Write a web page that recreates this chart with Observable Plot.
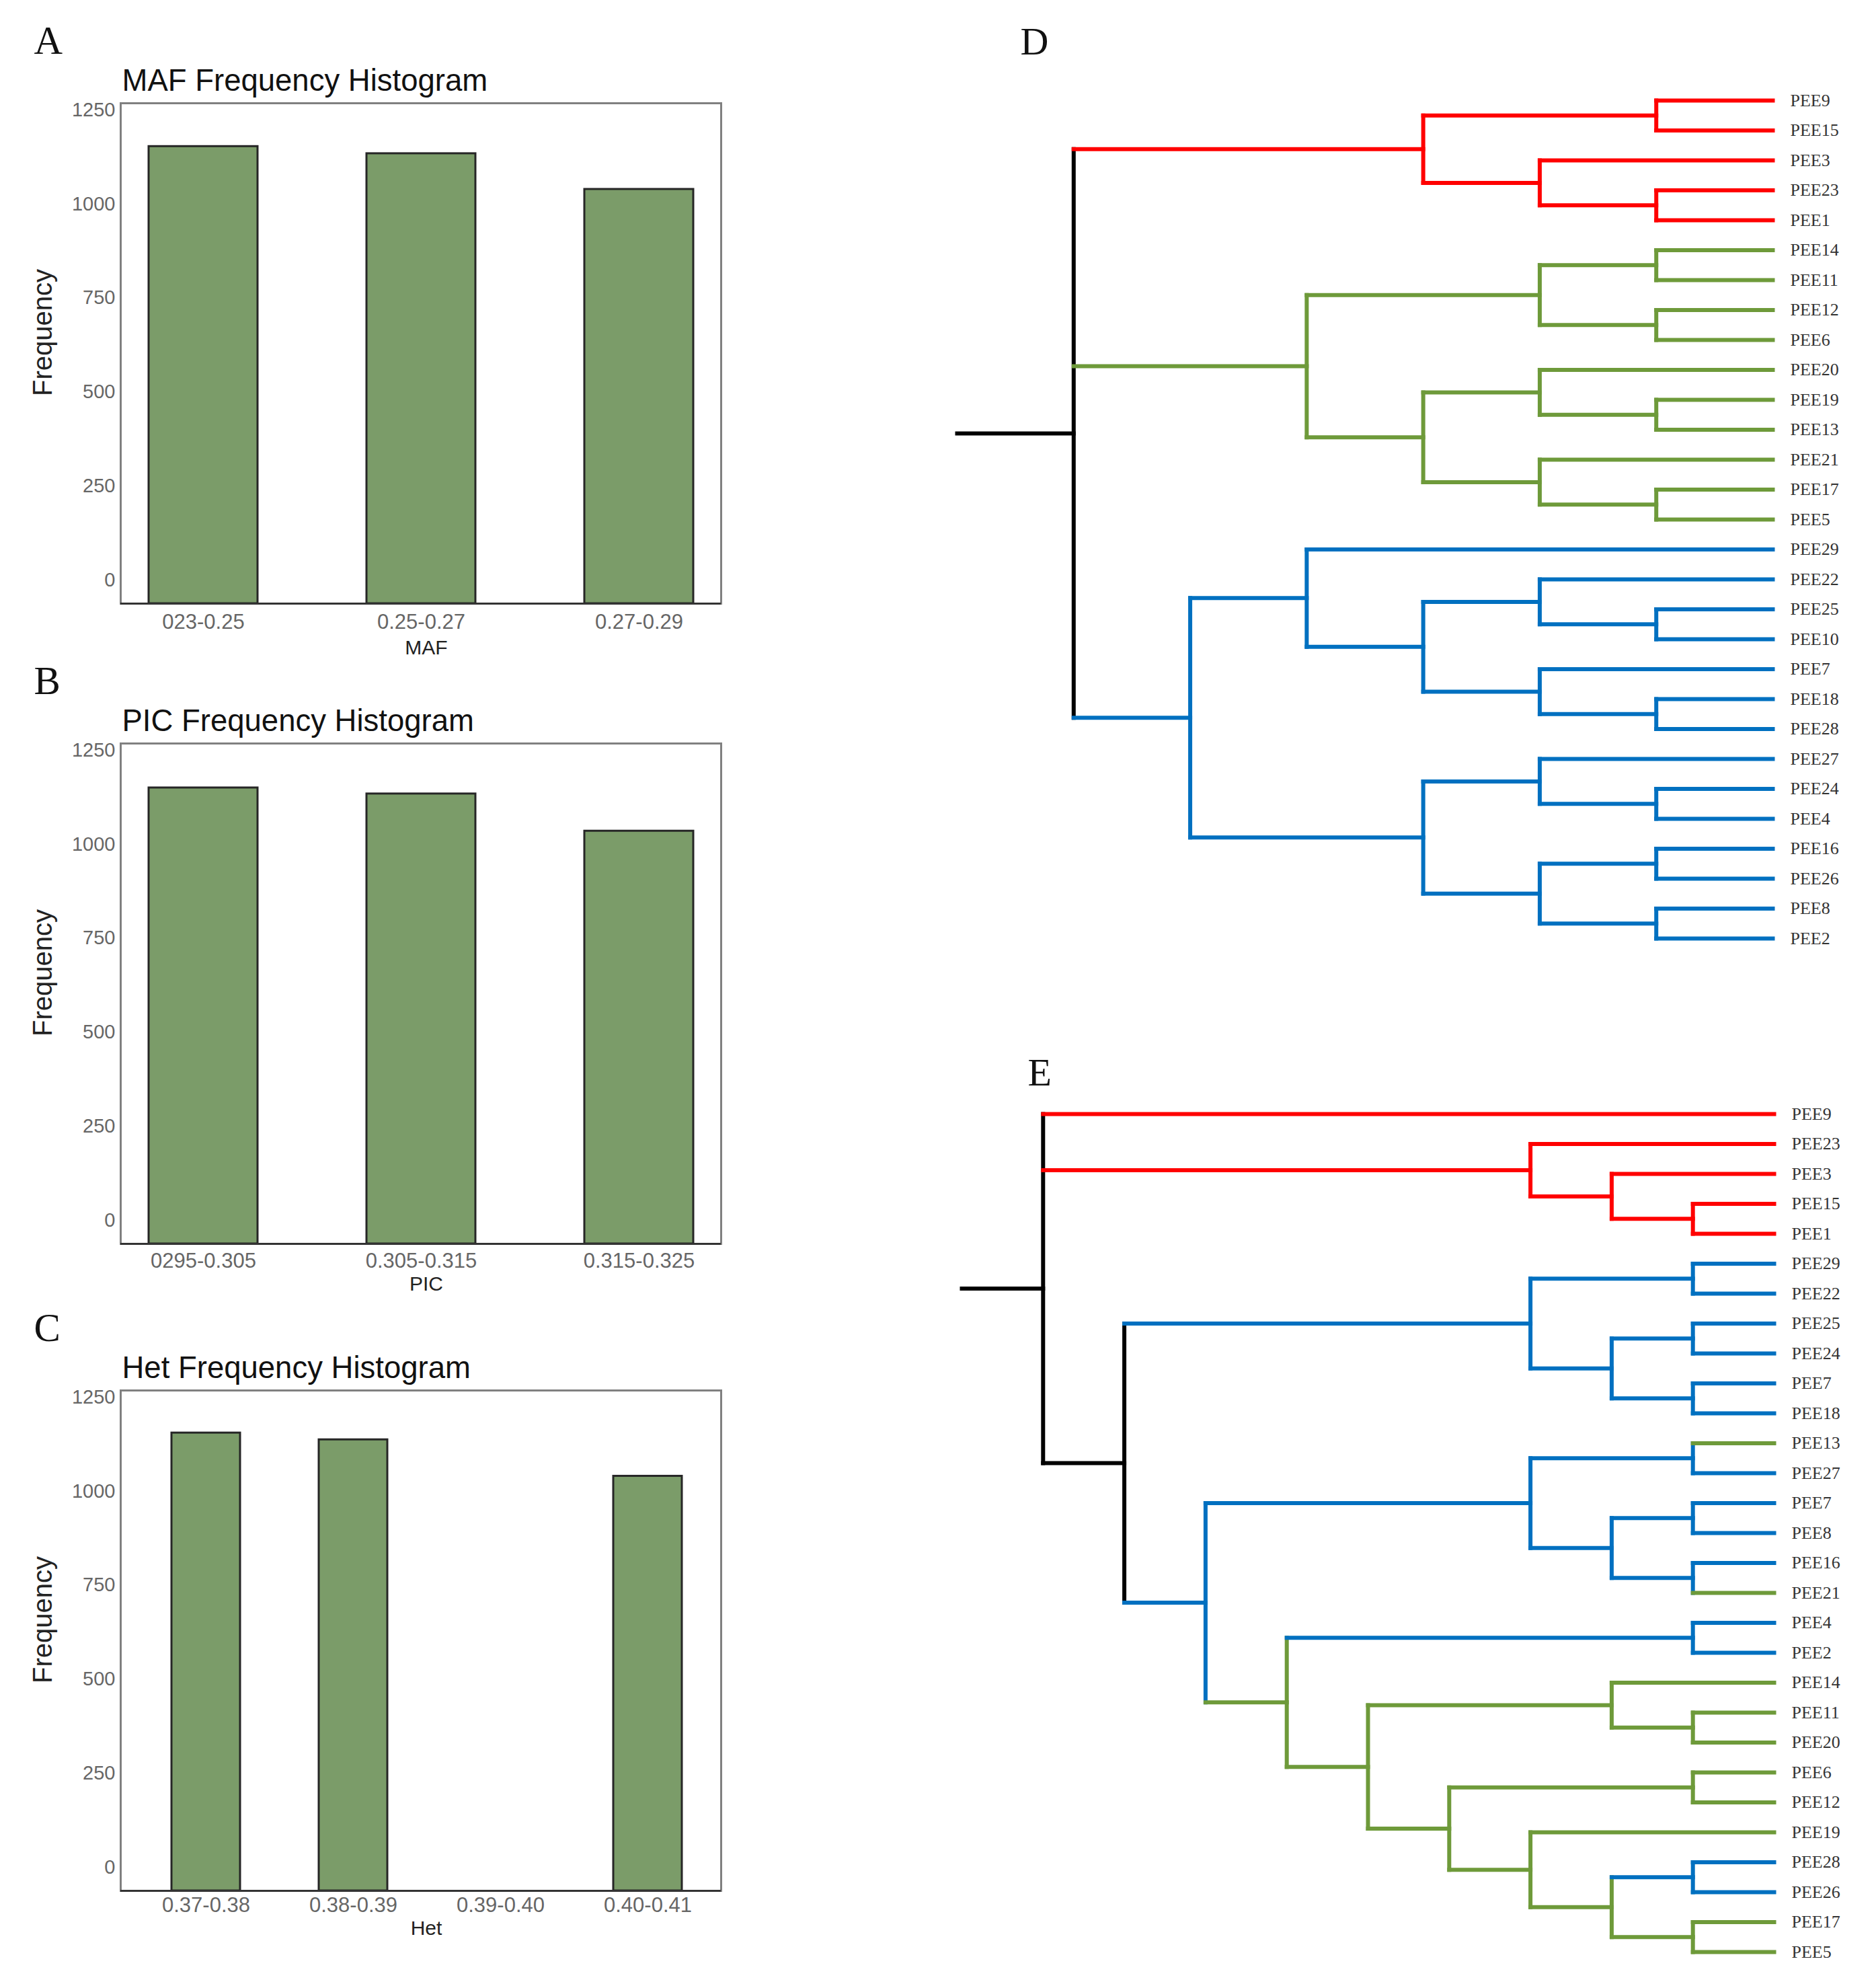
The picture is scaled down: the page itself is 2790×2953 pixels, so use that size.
<!DOCTYPE html>
<html><head><meta charset="utf-8">
<script src="https://cdn.jsdelivr.net/npm/d3@7"></script>
<script src="https://cdn.jsdelivr.net/npm/@observablehq/plot@0.6"></script>
<style>
html,body{margin:0;padding:0;background:#fff;}
#fig{position:relative;width:2790px;height:2953px;overflow:hidden;background:#fff;}
#fig > div{position:absolute;}
</style></head><body><div id="fig"></div>
<script>
// ---------- data ----------
const mafBins = ["023-0.25", "0.25-0.27", "0.27-0.29"];
const mafFreq = [1153, 1134, 1039];
const picBins = ["0295-0.305", "0.305-0.315", "0.315-0.325"];
const picFreq = [1150, 1134, 1035];
const hetBins = ["0.37-0.38", "0.38-0.39", "0.39-0.40", "0.40-0.41"];
const hetFreq = [1155, 1137, null, 1040];
const yTicks = [0, 250, 500, 750, 1000, 1250];

// dendrogram topologies; "@x" = branch group (k black, r red, g green, b blue), inherited by descendants
const treeD = "(((PEE9,PEE15),(PEE3,(PEE23,PEE1)))@r,(((PEE14,PEE11),(PEE12,PEE6)),((PEE20,(PEE19,PEE13)),(PEE21,(PEE17,PEE5))))@g,((PEE29,((PEE22,(PEE25,PEE10)),(PEE7,(PEE18,PEE28)))),((PEE27,(PEE24,PEE4)),((PEE16,PEE26),(PEE8,PEE2))))@b)@k";
const treeE = "(PEE9@r,(PEE23,(PEE3,(PEE15,PEE1)))@r,(((PEE29,PEE22),((PEE25,PEE24),(PEE7,PEE18)))@b,(((PEE13@g,PEE27),((PEE7,PEE8),(PEE16,PEE21@g)))@b,((PEE4,PEE2)@b,((PEE14,(PEE11,PEE20)),((PEE6,PEE12),(PEE19,((PEE28,PEE26)@b,(PEE17,PEE5))))))@g)@b)@k)@k";
const groupKeys = ["k", "r", "g", "b"];
const groupColors = ["#000000", "#ff0000", "#6e9a3a", "#0070c0"];

// ---------- helpers ----------
const fig = document.getElementById("fig");
function place(el, left, top) {
  const d = document.createElement("div");
  d.style.left = left + "px"; d.style.top = top + "px";
  d.appendChild(el); fig.appendChild(d);
}
const SANS = "'Liberation Sans', Arial, Helvetica, sans-serif";
const SERIF = "'Liberation Serif', 'Times New Roman', serif";

function hist(o) {
  const data = o.bins.map((b, i) => ({bin: b, freq: o.freq[i]})).filter(d => d.freq != null);
  const yMin = -63, yMax = 1268;
  return Plot.plot({
    width: 1180, height: 992,
    marginLeft: 179, marginRight: 108, marginTop: 153, marginBottom: 95,
    style: {background: "transparent", fontFamily: SANS},
    x: {type: "band", domain: o.bins, paddingInner: o.pi, paddingOuter: o.po, align: o.align, axis: null},
    y: {domain: [yMin, yMax], axis: null},
    marks: [
      Plot.barY(data, {x: "bin", y1: () => yMin, y2: "freq", fill: "#7b9c69", stroke: "#262626", strokeWidth: 3}),
      Plot.frame({stroke: "#808080", strokeWidth: 3}),
      Plot.ruleY([yMin], {stroke: "#333333", strokeWidth: 3}),
      Plot.axisY({ticks: yTicks, tickFormat: d => String(d), tickSize: 0, tickPadding: 8, fontSize: 29, fill: "#666", label: null}),
      Plot.axisX({tickSize: 0, tickPadding: o.tp, fontSize: 31, fill: "#666", label: null}),
      Plot.text([o.title], {text: d => d, frameAnchor: "top-left", dx: 2, dy: -51, lineAnchor: "top", textAnchor: "start", fontSize: 45.5, fill: "#111"}),
      Plot.text([o.letter], {text: d => d, frameAnchor: "top-left", dx: -129, dy: -115, lineAnchor: "top", textAnchor: "start", fontSize: 59, fontFamily: SERIF, fill: "#111"}),
      Plot.text(["Frequency"], {text: d => d, frameAnchor: "left", dx: -115, dy: -31, rotate: -90, textAnchor: "middle", lineAnchor: "middle", fontSize: 40, fill: "#222"}),
      Plot.text([o.xlabel], {text: d => d, frameAnchor: "bottom", dx: 8, dy: o.ldy, textAnchor: "middle", lineAnchor: "middle", fontSize: 30, fill: "#222"})
    ]
  });
}

function parseTree(s) {
  let i = 0;
  function node() {
    let n;
    if (s[i] === "(") {
      i++;
      const children = [node()];
      while (s[i] === ",") { i++; children.push(node()); }
      i++; // ')'
      n = {children};
    } else {
      const j = i;
      while (i < s.length && !",()@".includes(s[i])) i++;
      n = {name: s.slice(j, i)};
    }
    if (s[i] === "@") { n.group = s[i + 1]; i += 2; }
    return n;
  }
  return node();
}

function dendro(o) {
  const root = d3.hierarchy(parseTree(o.tree));
  let k = 0;
  root.eachAfter(n => {
    if (!n.children) n.y = k++;
    else n.y = (n.children[0].y + n.children[n.children.length - 1].y) / 2;
  });
  root.eachBefore(n => { n.group = n.data.group || (n.parent ? n.parent.group : "k"); });
  const segs = [];
  root.each(n => {
    if (n.children) segs.push({x1: n.height, x2: n.height, y1: n.children[0].y, y2: n.children[n.children.length - 1].y, g: n.group});
  });
  root.each(n => {
    if (n.parent) segs.push({x1: n.parent.height, x2: n.height, y1: n.y, y2: n.y, g: n.group});
  });
  segs.push({x1: root.height + 1, x2: root.height, y1: root.y, y2: root.y, g: root.group});
  const leaves = root.leaves();
  return Plot.plot({
    width: o.width, height: o.height,
    marginLeft: o.ml, marginRight: o.mr, marginTop: o.mt, marginBottom: o.mb,
    style: {background: "transparent"},
    x: {domain: [root.height + 1, 0], axis: null},
    y: {domain: [0, leaves.length - 1], reverse: true, axis: null},
    color: {domain: groupKeys, range: groupColors},
    marks: [
      Plot.link(segs, {x1: "x1", y1: "y1", x2: "x2", y2: "y2", stroke: "g", strokeWidth: 6, strokeLinecap: "square"}),
      Plot.text(leaves, {x: d => d.height, y: d => d.y, text: d => d.data.name, dx: 26, textAnchor: "start",
        fontSize: 26, fontFamily: SERIF, fill: "#333"}),
      Plot.text([o.letter], {text: d => d, frameAnchor: "top-left", dx: o.ldx, dy: o.ldy, lineAnchor: "top", textAnchor: "start",
        fontSize: 58, fontFamily: SERIF, fill: "#111"})
    ]
  });
}

// ---------- panels ----------
place(hist({letter: "A", title: "MAF Frequency Histogram", xlabel: "MAF", bins: mafBins, freq: mafFreq, pi: 0.5, po: 0.126, align: 0.5, tp: 15, ldy: 66}), 0, 0);
place(hist({letter: "B", title: "PIC Frequency Histogram", xlabel: "PIC", bins: picBins, freq: picFreq, pi: 0.5, po: 0.126, align: 0.5, tp: 13, ldy: 60}), 0, 952);
place(hist({letter: "C", title: "Het Frequency Histogram", xlabel: "Het", bins: hetBins, freq: hetFreq, pi: 0.533, po: 0.3, align: 0.565, tp: 9, ldy: 56}), 0, 1914);
place(dendro({tree: treeD, letter: "D", width: 1390, height: 1450, ml: 23, mr: 154, mt: 149, mb: 55, ldx: 94, ldy: -110}), 1400, 0);
place(dendro({tree: treeE, letter: "E", width: 1390, height: 1473, ml: 30, mr: 152, mt: 176, mb: 51, ldx: 98, ldy: -84}), 1400, 1480);
</script>
</body></html>
